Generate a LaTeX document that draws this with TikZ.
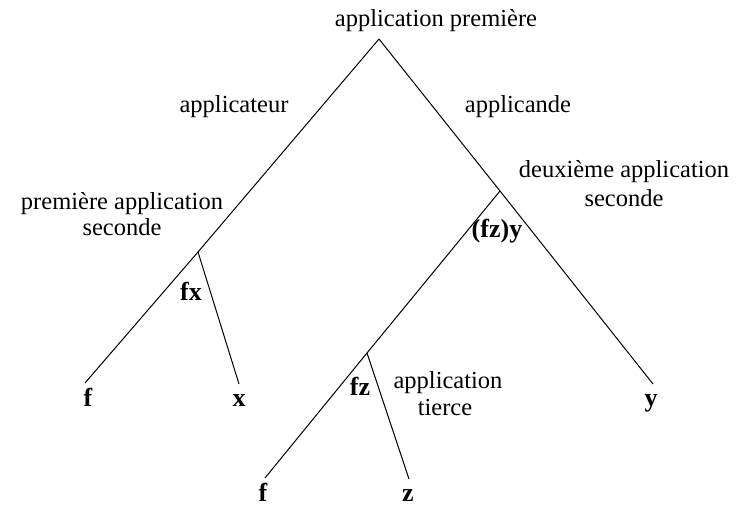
\documentclass[tikz,border=0pt]{standalone}
\usepackage{fontspec}
\setmainfont{Liberation Serif}
\begin{document}
\begin{tikzpicture}[x=1pt,y=-1pt,
  branch/.style={draw=black,line width=1pt},
  lbl/.style={anchor=base,inner sep=0pt,font=\fontsize{24.5}{27}\selectfont},
  var/.style={anchor=base,inner sep=0pt,font=\fontsize{26}{28}\selectfont\bfseries}]
\useasboundingbox (0,0) rectangle (748,506);
% junctions and ends
\coordinate (apex) at (379,39);
\coordinate (jl) at (198,252);
\coordinate (jr) at (500,191);
\coordinate (jb) at (367,353);
\coordinate (ef) at (85,383);
\coordinate (ex) at (239,384);
\coordinate (ey) at (653,384);
\coordinate (ef2) at (265,478);
\coordinate (ez) at (409,479);
% branches
\draw[branch] (apex) -- (jl) -- (ef);
\draw[branch] (jl) -- (ex);
\draw[branch] (apex) -- (jr) -- (ey);
\draw[branch] (jr) -- (jb) -- (ef2);
\draw[branch] (jb) -- (ez);
% labels
\node[lbl] (top) at (436,27) {application première};
\node[lbl] (lcat) at (234,112) {applicateur};
\node[lbl] (lcande) at (518,112) {applicande};
\node[lbl] (pas1) at (122,209) {première application};
\node[lbl] (pas2) at (122,235) {seconde};
\node[lbl] (das1) at (624,177) {deuxième application};
\node[lbl] (das2) at (624,206) {seconde};
\node[lbl] (at1) at (448,388) {application};
\node[lbl] (at2) at (445,415) {tierce};
\node[var] (fzy) at (497,237) {(fz)y};
\node[var] (fx) at (191,300) {fx};
\node[var] (fz) at (360,395) {fz};
\node[var] (vf) at (88,406) {f};
\node[var] (vx) at (239,406) {x};
\node[var] (vy) at (651,406) {y};
\node[var] (vf2) at (263,501) {f};
\node[var] (vz) at (408,501) {z};
\end{tikzpicture}
\end{document}
